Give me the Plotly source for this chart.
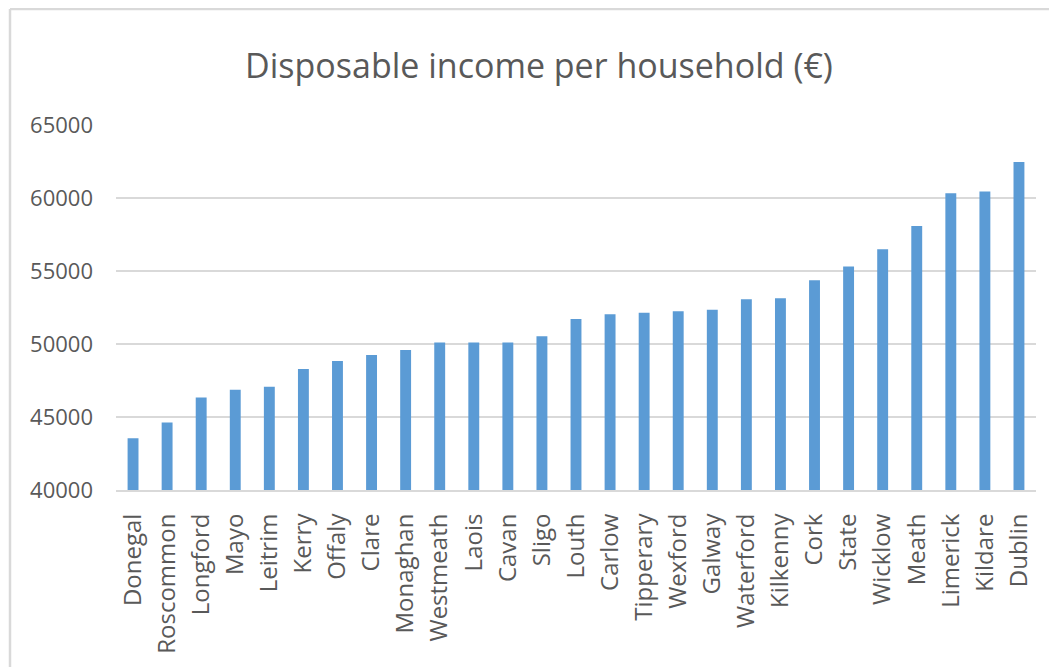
import plotly.graph_objects as go

counties = ["Donegal", "Roscommon", "Longford", "Mayo", "Leitrim", "Kerry", "Offaly",
            "Clare", "Monaghan", "Westmeath", "Laois", "Cavan", "Sligo", "Louth",
            "Carlow", "Tipperary", "Wexford", "Galway", "Waterford", "Kilkenny",
            "Cork", "State", "Wicklow", "Meath", "Limerick", "Kildare", "Dublin"]
income = [43550, 44620, 46330, 46860, 47080, 48280, 48840,
          49250, 49590, 50110, 50110, 50110, 50530, 51710,
          52030, 52140, 52250, 52350, 53070, 53140,
          54360, 55300, 56490, 58080, 60320, 60450, 62470]
y_ticks = [40000, 45000, 50000, 55000, 60000, 65000]

# page body has an 8px margin; the figure is sized to end at the window edge
OFF = 8
W, H = 1057 - OFF, 667 - OFF
L, T = 116 - OFF, 125 - OFF
pw, ph = 920, 365
R, B = W - L - pw, H - T - ph

def px_x(p):  # page pixel -> paper x
    return (p - OFF - L) / pw

def px_y(p):  # page pixel -> paper y
    return (T + ph - (p - OFF)) / ph

fig = go.Figure(go.Bar(
    x=counties, y=income, marker_color="#5B9BD5", marker_line_width=0,
))

fig.update_layout(
    width=W, height=H,
    margin=dict(l=L, r=R, t=T, b=B, autoexpand=False),
    paper_bgcolor="white", plot_bgcolor="white",
    bargap=0.68,
    showlegend=False,
    title=dict(text="Disposable income per household (€)",
               font=dict(family="Open Sans", size=34, color="#595959"),
               x=(539 - OFF) / W, xref="container", xanchor="center",
               y=1 - (66 - OFF) / H, yref="container", yanchor="middle"),
    font=dict(family="Open Sans", color="#595959"),
    shapes=[
        dict(type="line", xref="paper", yref="paper",
             x0=px_x(10), x1=px_x(10), y0=px_y(700), y1=px_y(9),
             line=dict(color="#D9D9D9", width=2.5)),
        dict(type="line", xref="paper", yref="paper",
             x0=px_x(10), x1=px_x(1100), y0=px_y(9), y1=px_y(9),
             line=dict(color="#D9D9D9", width=2.5)),
    ],
)

fig.update_xaxes(
    type="category", tickangle=-90,
    tickfont=dict(family="Open Sans", size=24, color="#595959"),
    showline=True, linecolor="#D9D9D9", linewidth=2,
    showgrid=False, ticks="", ticklabelstandoff=12,
)
fig.update_yaxes(
    range=[40000, 65000], tickvals=y_ticks, ticktext=[str(v) for v in y_ticks],
    tickfont=dict(family="Open Sans", size=22, color="#595959"),
    showgrid=True, gridcolor="#D9D9D9", gridwidth=2,
    zeroline=False, showline=False, ticks="", ticklabelstandoff=22,
)

fig.write_html("out.html")
